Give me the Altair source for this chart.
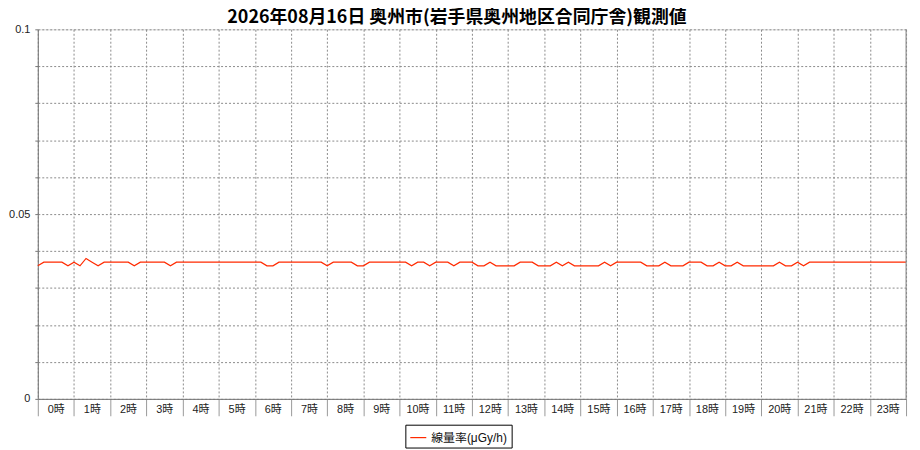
import altair as alt
import pandas as pd

TITLE = "2026年08月16日 奥州市(岩手県奥州地区合同庁舎)観測値"
SERIES = "線量率(μGy/h)"

# 10-minute readings, 0:00 .. 24:00 (145 points), μGy/h
values = (
    [0.036, 0.037, 0.037, 0.037, 0.037, 0.036]          # 0時
    + [0.037, 0.036, 0.038, 0.037, 0.036, 0.037]        # 1時
    + [0.037, 0.037, 0.037, 0.037, 0.036, 0.037]        # 2時
    + [0.037, 0.037, 0.037, 0.037, 0.036, 0.037]        # 3時
    + [0.037, 0.037, 0.037, 0.037, 0.037, 0.037]        # 4時
    + [0.037, 0.037, 0.037, 0.037, 0.037, 0.037]        # 5時
    + [0.037, 0.037, 0.036, 0.036, 0.037, 0.037]        # 6時
    + [0.037, 0.037, 0.037, 0.037, 0.037, 0.037]        # 7時
    + [0.036, 0.037, 0.037, 0.037, 0.037, 0.036]        # 8時
    + [0.036, 0.037, 0.037, 0.037, 0.037, 0.037]        # 9時
    + [0.037, 0.037, 0.036, 0.037, 0.037, 0.036]        # 10時
    + [0.037, 0.037, 0.037, 0.036, 0.037, 0.037]        # 11時
    + [0.037, 0.036, 0.036, 0.037, 0.036, 0.036]        # 12時
    + [0.036, 0.036, 0.037, 0.037, 0.037, 0.036]        # 13時
    + [0.036, 0.036, 0.037, 0.036, 0.037, 0.036]        # 14時
    + [0.036, 0.036, 0.036, 0.036, 0.037, 0.036]        # 15時
    + [0.037, 0.037, 0.037, 0.037, 0.037, 0.036]        # 16時
    + [0.036, 0.036, 0.037, 0.036, 0.036, 0.036]        # 17時
    + [0.037, 0.037, 0.037, 0.036, 0.036, 0.037]        # 18時
    + [0.036, 0.036, 0.037, 0.036, 0.036, 0.036]        # 19時
    + [0.036, 0.036, 0.036, 0.037, 0.036, 0.036]        # 20時
    + [0.037, 0.036, 0.037, 0.037, 0.037, 0.037]        # 21時
    + [0.037, 0.037, 0.037, 0.037, 0.037, 0.037]        # 22時
    + [0.037, 0.037, 0.037, 0.037, 0.037, 0.037]        # 23時
    + [0.037]                                           # 24:00
)
hours = [i / 6 for i in range(len(values))]
hour_ticks = list(range(0, 25))
y_grid = [round(i * 0.01, 2) for i in range(0, 11)]

df = pd.DataFrame({"hour": hours, "value": values, "series": [SERIES] * len(values)})

LABEL_FONT = "Liberation Sans, Noto Sans CJK JP"
GRID = "#8a8a8a"

x_scale = alt.Scale(domain=[0, 24], nice=False, zero=False)
x_axis = alt.Axis(
    values=hour_ticks,
    title=None,
    grid=True,
    gridColor=GRID,
    gridDash=[2, 2],
    gridWidth=1,
    domainColor="#777777",
    tickColor="#999999",
    tickSize=17,
    tickCount=25,
    labelPadding=-12,
    labelOffset=18,
    labelExpr="datum.value < 24 ? datum.value + '時' : ''",
    labelFont=LABEL_FONT,
    labelFontSize=11,
    labelColor="#222222",
    labelFlush=False,
    labelOverlap=False,
)
y_enc = alt.Y(
    "value:Q",
    scale=alt.Scale(domain=[0, 0.1], nice=False),
    axis=alt.Axis(
        values=y_grid,
        title=None,
        grid=True,
        gridColor=GRID,
        gridDash=[2, 2],
        gridWidth=1,
        domainColor="#777777",
        tickColor="#777777",
        tickSize=3,
        labelPadding=5,
        labelExpr="datum.value == 0 ? '0' : (abs(datum.value - 0.05) < 0.0001 ? '0.05' : (abs(datum.value - 0.1) < 0.0001 ? '0.1' : ''))",
        labelFont=LABEL_FONT,
        labelFontSize=11,
        labelColor="#222222",
        labelOverlap=False,
    ),
)

line = alt.Chart(df).mark_line(strokeWidth=1.2, interpolate="linear").encode(
    x=alt.X("hour:Q", scale=x_scale, axis=x_axis),
    y=y_enc,
    color=alt.Color(
        "series:N",
        scale=alt.Scale(range=["#ff2a00"]),
        legend=alt.Legend(
            title=None,
            orient="none",
            legendX=370,
            legendY=398,
            direction="horizontal",
            symbolType="stroke",
            symbolSize=260,
            symbolStrokeWidth=1.2,
            labelFont=LABEL_FONT,
            labelFontSize=12,
            labelColor="#111111",
            strokeColor="#000000",
            padding=4,
            cornerRadius=0,
            fillColor="#ffffff",
        ),
    ),
)

right_edge = alt.Chart(pd.DataFrame({"hour": [24]})).mark_rule(color="#888888", strokeWidth=1).encode(
    x=alt.X("hour:Q", scale=x_scale, axis=x_axis)
)

chart = (
    alt.layer(line, right_edge)
    .properties(
        width=874,
        height=372,
        padding={"left": 30, "top": 20, "right": 6, "bottom": 50},
        autosize=alt.AutoSizeParams(type="none"),
        title=alt.TitleParams(
            TITLE,
            font="Noto Sans CJK JP",
            fontSize=18,
            fontWeight="bold",
            color="#000000",
            anchor="middle",
            dx=-15,
            offset=-4,
        ),
    )
    .configure_view(stroke=None)
    .configure(background="#ffffff")
)

chart.save("out.html", embed_options={"renderer": "svg", "actions": False})
